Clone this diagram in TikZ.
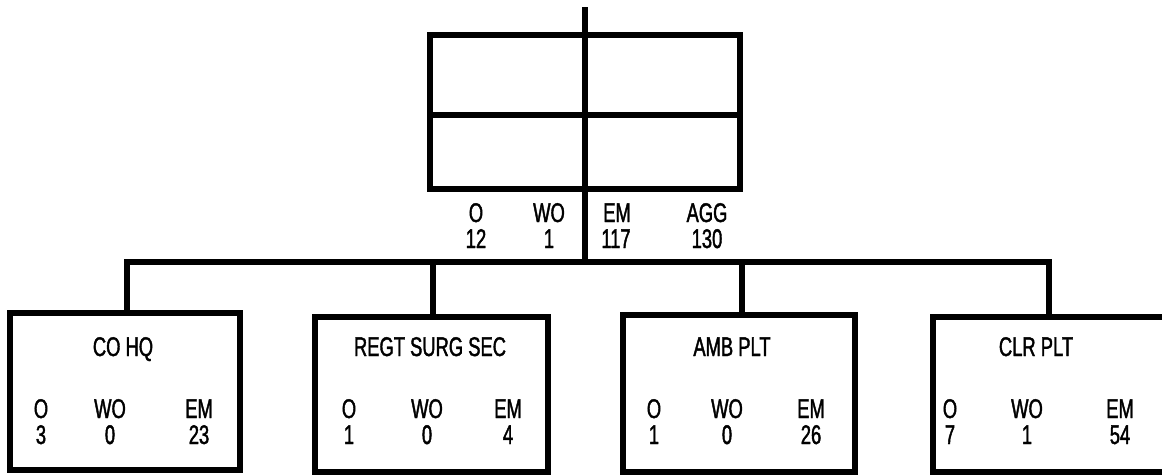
\documentclass[tikz,border=0pt]{standalone}
\usepackage{fontspec}
\setmainfont[FakeStretch=0.68,FakeBold=1.5]{Liberation Sans}
\begin{document}
\begin{tikzpicture}[x=1pt,y=-1pt,line width=6pt,line join=miter,
  unit/.style={draw,line width=6pt,rectangle,inner sep=0pt},
  lbl/.style={anchor=base,inner sep=0pt,font=\fontsize{27}{27}\selectfont}]
\useasboundingbox (0,0) rectangle (1162,475);
% top box
\node[unit,minimum width=310pt,minimum height=154pt] (top) at (585,112) {};
\draw ([yshift=-3pt]top.west) -- ([yshift=-3pt]top.east);
\coordinate (feed) at (585,7);
\coordinate (bus) at (585,262);
\draw (feed) -- (bus);
\node[lbl] (tO)  at (476,222) {O};
\node[lbl] (tWO) at (549,222) {WO};
\node[lbl] (tEM) at (617,222) {EM};
\node[lbl] (tAG) at (707,222) {AGG};
\node[lbl] (nO)  at (476,248) {12};
\node[lbl] (nWO) at (549,248) {1};
\node[lbl] (nEM) at (616,248) {117};
\node[lbl] (nAG) at (707,248) {130};
% unit boxes
\node[unit,minimum width=230pt,minimum height=157pt] (co)   at (125,391.5) {};
\node[unit,minimum width=233pt,minimum height=155pt] (regt) at (431.5,394.5) {};
\node[unit,minimum width=232pt,minimum height=157pt] (amb)  at (739,393.5) {};
\node[unit,minimum width=242pt,minimum height=155pt] (clr)  at (1054,394.5) {};
% connectors
\draw ([xshift=2pt]co.north) -- ([xshift=2pt]co.north |- bus) -- ([xshift=-5pt]clr.north |- bus) -- ([xshift=-5pt]clr.north);
\draw ([xshift=1.5pt]regt.north) -- ([xshift=1.5pt]regt.north |- bus);
\draw ([xshift=3pt]amb.north) -- ([xshift=3pt]amb.north |- bus);
% CO HQ
\node[lbl] (coT) at (123,356) {CO HQ};
\node[lbl] (coa) at (41,418) {O};
\node[lbl] (cob) at (110,418) {WO};
\node[lbl] (coc) at (199,418) {EM};
\node[lbl] (cod) at (41,444) {3};
\node[lbl] (coe) at (110,444) {0};
\node[lbl] (cof) at (199,444) {23};
% REGT SURG SEC
\node[lbl] (rgT) at (430,356) {REGT SURG SEC};
\node[lbl] (rga) at (349,418) {O};
\node[lbl] (rgb) at (427,418) {WO};
\node[lbl] (rgc) at (508,418) {EM};
\node[lbl] (rgd) at (349,444) {1};
\node[lbl] (rge) at (427,444) {0};
\node[lbl] (rgf) at (508,444) {4};
% AMB PLT
\node[lbl] (amT) at (732,356) {AMB PLT};
\node[lbl] (ama) at (654,418) {O};
\node[lbl] (amb2) at (727,418) {WO};
\node[lbl] (amc) at (811,418) {EM};
\node[lbl] (amd) at (654,444) {1};
\node[lbl] (ame) at (727,444) {0};
\node[lbl] (amf) at (811,444) {26};
% CLR PLT
\node[lbl] (clT) at (1036,356) {CLR PLT};
\node[lbl] (cla) at (950,418) {O};
\node[lbl] (clb) at (1027,418) {WO};
\node[lbl] (clc) at (1120,418) {EM};
\node[lbl] (cld) at (950,444) {7};
\node[lbl] (cle) at (1027,444) {1};
\node[lbl] (clf) at (1120,444) {54};
\end{tikzpicture}
\end{document}
